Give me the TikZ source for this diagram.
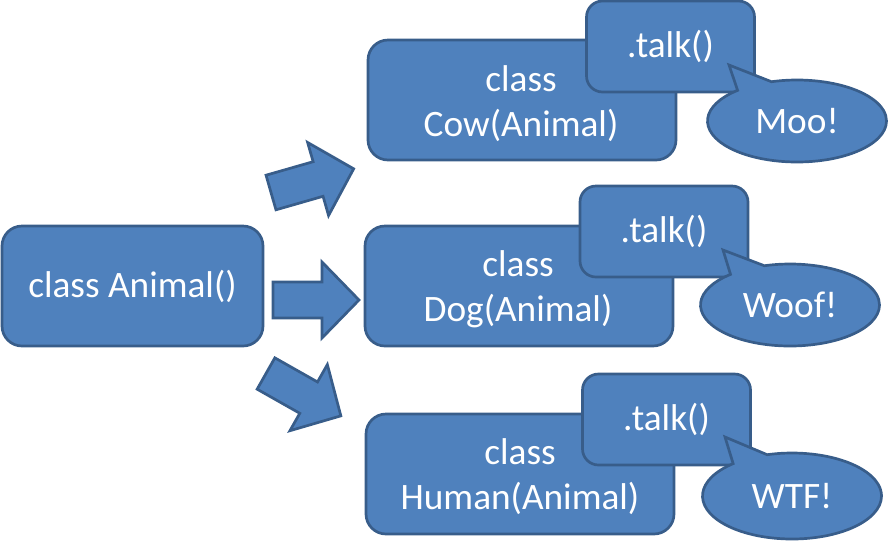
\documentclass[tikz,border=0pt]{standalone}
\usepackage{fontspec}
\setmainfont{Carlito}
\usetikzlibrary{shapes.callouts}
\definecolor{boxfill}{HTML}{4F81BD}
\definecolor{boxline}{HTML}{385D8A}
\begin{document}
\begin{tikzpicture}[x=1pt,y=-1pt,
 base/.style={fill=boxfill, draw=boxline, line width=2.7pt, text=white, font=\fontsize{37.3}{45}\selectfont, inner sep=0pt},
 classbox/.style={base, rectangle, rounded corners=20pt, minimum width=308pt, minimum height=120pt, align=center},
 classtext/.style={text=white, font=\fontsize{37.3}{45}\selectfont, inner sep=0pt, align=center},
 talkbox/.style={base, rectangle, rounded corners=16pt, minimum width=168pt, minimum height=91pt},
 bubble/.style={base, ellipse callout, minimum width=179pt, minimum height=82pt, callout pointer arc=25},
 blockarrow/.style={fill=boxfill, draw=boxline, line width=2.7pt, line join=miter}
]
\useasboundingbox (0,0) rectangle (890,542);

% base class
\node[classbox, minimum width=261pt] (animal) at (132.5,286) {class Animal()};

% block arrows
\draw[blockarrow, shift={(271,192.5)}, rotate=16] (0,-18) -- (49,-18) -- (49,-38) -- (86,0) -- (49,38) -- (49,18) -- (0,18) -- cycle;
\draw[blockarrow, shift={(273,300)}] (0,-18) -- (49,-18) -- (49,-38) -- (86,0) -- (49,38) -- (49,18) -- (0,18) -- cycle;
\draw[blockarrow, shift={(266,373.5)}, rotate=-29.5] (0,-18) -- (49,-18) -- (49,-38) -- (86,0) -- (49,38) -- (49,18) -- (0,18) -- cycle;

% Cow
\node[classbox] (cow) at (522,100) {};
\node[classtext] (cowtext) at (521,104) {class\\Cow(Animal)};
\node[talkbox] (cowtalk) at (670.5,46.5) {.talk()};
\node[bubble, callout absolute pointer={(729,65)}] (moo) at (797,121) {Moo!};

% Dog
\node[classbox] (dog) at (519,286) {};
\node[classtext] (dogtext) at (518,289) {class\\Dog(Animal)};
\node[talkbox] (dogtalk) at (664,231.5) {.talk()};
\node[bubble, callout absolute pointer={(723,250)}] (woof) at (790,305) {Woof!};

% Human
\node[classbox] (human) at (520,474) {};
\node[classtext] (humantext) at (520,477) {class\\Human(Animal)};
\node[talkbox] (humantalk) at (666.5,419.5) {.talk()};
\node[bubble, minimum height=86pt, callout absolute pointer={(725,437)}] (wtf) at (792,496) {WTF!};
\end{tikzpicture}
\end{document}
